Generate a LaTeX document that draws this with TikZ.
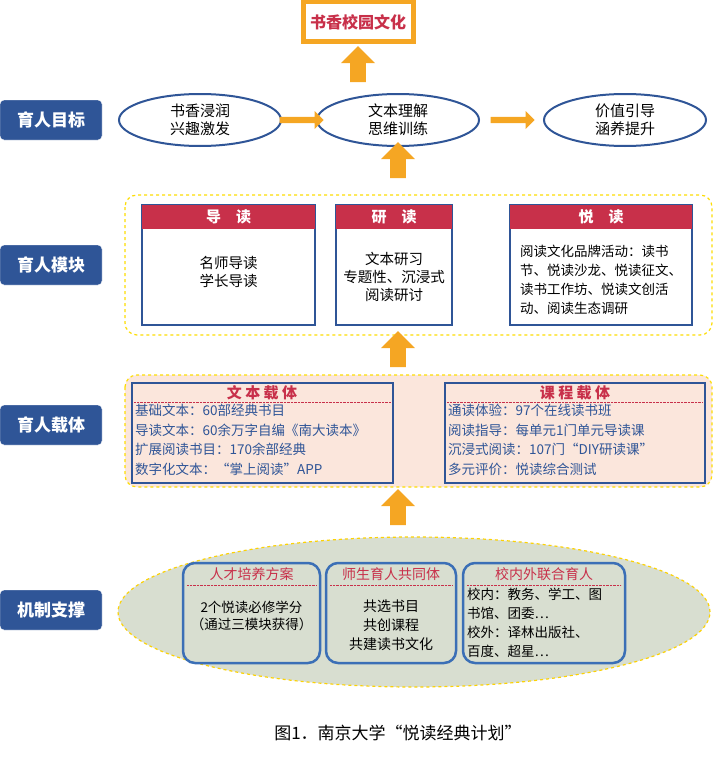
\documentclass[tikz,border=0pt]{standalone}
\usepackage{fontspec}
\setmainfont{Noto Sans CJK SC}
\usetikzlibrary{shapes.geometric,shapes.arrows}
\definecolor{nblue}{HTML}{2F5597}
\definecolor{lblue}{HTML}{3B6FB6}
\definecolor{org}{HTML}{F5A623}
\definecolor{hred}{HTML}{C8304A}
\definecolor{pinkbg}{HTML}{FBE6DC}
\definecolor{greenbg}{HTML}{D8DED0}
\tikzset{
  lab/.style={draw=white,fill=nblue,rounded corners=4pt,minimum width=102pt,minimum height=40pt,text=white,font=\fontsize{17}{20}\selectfont\bfseries},
  goal/.style={ellipse,draw=nblue,line width=2pt,fill=white,minimum width=162pt,minimum height=52pt,inner sep=1pt,align=center,font=\fontsize{15}{18}\selectfont,text=black},
  uparr/.style={single arrow,fill=org,draw=none,shape border rotate=90,minimum height=36pt,minimum width=34pt,single arrow head extend=6pt,single arrow tip angle=90,inner sep=5pt},
  rarr/.style={single arrow,fill=org,draw=none,minimum height=44pt,minimum width=18pt,single arrow head extend=4pt,inner sep=2pt},
  dashbox/.style={draw=yellow!80!orange,dashed,line width=1.2pt,rounded corners=12pt},
  mod/.style={draw=nblue,line width=1.5pt,fill=white},
  modhead/.style={fill=hred,text=white,font=\fontsize{15}{18}\selectfont\bfseries},
  txt/.style={align=center,font=\fontsize{14.5}{18}\selectfont,text=black},
  ltxt/.style={align=left,font=\fontsize{13.5}{19.5}\selectfont,text=nblue},
}
\begin{document}
\begin{tikzpicture}[x=1pt,y=-1pt]
\useasboundingbox (0,0) rectangle (714,760);
% top
\node[draw=org,line width=5pt,fill=white,minimum width=110pt,minimum height=40pt,inner sep=2pt,text=hred,font=\fontsize{16}{20}\selectfont\bfseries] (top) at (358,22) {书香校园文化};
\node[uparr] (a0) at (358,68) {};
% labels
\node[lab] (l1) at (51,120) {育人目标};
\node[lab] (l2) at (51,265) {育人模块};
\node[lab] (l3) at (51,425) {育人载体};
\node[lab] (l4) at (51,610) {机制支撑};
% goals
\node[goal] (g1) at (200,120) {书香浸润\\兴趣激发};
\node[goal] (g2) at (398,120) {文本理解\\思维训练};
\node[goal] (g3) at (625,120) {价值引导\\涵养提升};
\node[rarr] (r1) at (300,120) {};
\node[rarr] (r2) at (511,120) {};
\node[uparr] (a1) at (398,164) {};
% modules
\draw[dashbox,fill=white] (125,195) rectangle (712,335);
\draw[mod] (142,205) rectangle (315,325);
\node[modhead,minimum width=173pt,minimum height=24pt] (m1) at (228.5,217) {导\quad 读};
\node[txt] (t1) at (228.5,272) {名师导读\\学长导读};
\draw[mod] (336,205) rectangle (452,325);
\node[modhead,minimum width=116pt,minimum height=24pt] (m2) at (394,217) {研\quad 读};
\node[txt] (t2) at (394,277) {文本研习\\专题性、沉浸式\\阅读研讨};
\draw[mod] (510,205) rectangle (692,325);
\node[modhead,minimum width=182pt,minimum height=24pt] (m3) at (601,217) {悦\quad 读};
\node[align=left,font=\fontsize{13.5}{19}\selectfont,text=black] (t3) at (601,280) {阅读文化品牌活动：读书\\节、悦读沙龙、悦读征文、\\读书工作坊、悦读文创活\\动、阅读生态调研};
\node[uparr] (a2) at (398,353) {};
% carriers
\draw[dashbox,fill=pinkbg] (125,375) rectangle (712,487);
\draw[nblue,line width=2pt] (132,383) rectangle (393,483);
\draw[hred,densely dotted] (134,402) -- (391,402);
\node[text=hred,font=\fontsize{15}{18}\selectfont\bfseries] (c1) at (262,393) {文\ 本\ 载\ 体};
\node[ltxt,anchor=north west,inner sep=1pt] (ct1) at (134,403) {基础文本：60部经典书目\\导读文本：60余万字自编《南大读本》\\扩展阅读书目：170余部经典\\数字化文本：“掌上阅读”APP};
\draw[nblue,line width=2pt] (445,383) rectangle (705,483);
\draw[hred,densely dotted] (447,402) -- (703,402);
\node[text=hred,font=\fontsize{15}{18}\selectfont\bfseries] (c2) at (575,393) {课\ 程\ 载\ 体};
\node[ltxt,anchor=north west,inner sep=1pt] (ct2) at (447,403) {通读体验：97个在线读书班\\阅读指导：每单元1门单元导读课\\沉浸式阅读：107门“DIY研读课”\\多元评价：悦读综合测试};
\node[uparr] (a3) at (398,511) {};
% mechanism
\node[ellipse,draw=yellow!70!orange,dashed,line width=1.2pt,fill=greenbg,minimum width=592pt,minimum height=150pt] (el) at (414,612) {};
\draw[lblue,line width=2.5pt,rounded corners=12pt,fill=greenbg] (183,563) rectangle (320,663);
\draw[hred,densely dotted] (187,585) -- (316,585);
\node[text=hred,font=\fontsize{14}{16}\selectfont] (k1) at (251.5,574) {人才培养方案};
\node[txt,font=\fontsize{13.5}{17}\selectfont] (kt1) at (251.5,616) {2个悦读必修学分\\（通过三模块获得）};
\draw[lblue,line width=2.5pt,rounded corners=12pt,fill=greenbg] (326,563) rectangle (456,663);
\draw[hred,densely dotted] (330,585) -- (452,585);
\node[text=hred,font=\fontsize{14}{16}\selectfont] (k2) at (391,574) {师生育人共同体};
\node[txt,font=\fontsize{14}{19}\selectfont] (kt2) at (391,625) {共选书目\\共创课程\\共建读书文化};
\draw[lblue,line width=2.5pt,rounded corners=12pt,fill=greenbg] (463,563) rectangle (625,663);
\draw[hred,densely dotted] (467,585) -- (621,585);
\node[text=hred,font=\fontsize{14}{16}\selectfont] (k3) at (544,574) {校内外联合育人};
\node[align=left,font=\fontsize{13.5}{19}\selectfont,text=black,anchor=north west,inner sep=1pt] (kt3) at (466,587) {校内：教务、学工、图\\书馆、团委…\\校外：译林出版社、\\百度、超星…};
% caption
\node[font=\fontsize{17}{20}\selectfont] (cap) at (398,733) {图1．南京大学“悦读经典计划”};
\end{tikzpicture}
\end{document}
